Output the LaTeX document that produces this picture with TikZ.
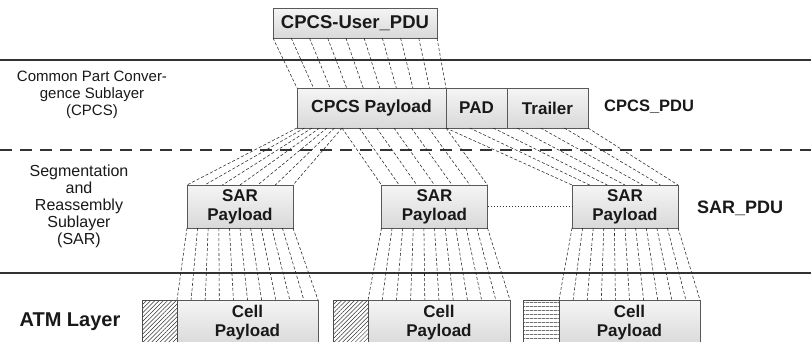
\documentclass[tikz,border=0pt]{standalone}
\usepackage{fontspec}
\setmainfont{Liberation Sans}
\usetikzlibrary{calc,patterns.meta}
\newcommand\fanlines[5]{%
  \pgfmathtruncatemacro\fanlast{#5-1}%
  \foreach \i in {0,...,\fanlast}{%
    \pgfmathsetmacro\fant{\i/\fanlast}%
    \draw[fanline] ($(#1)!\fant!(#2)$) -- ($(#3)!\fant!(#4)$);
  }%
}
\begin{document}
\begin{tikzpicture}[x=1pt,y=-1pt,
  box/.style={draw=black!65, line width=0.8pt, top color=black!4, bottom color=black!15,
    inner sep=0pt, outer sep=0pt, align=center, text=black!90},
  fanline/.style={draw=black!85, line width=0.55pt, dash pattern=on 3pt off 2pt},
  layerline/.style={draw=black!80, line width=1.4pt},
  hdr/.style={draw=black!70, line width=0.6pt, fill=white, inner sep=0pt, outer sep=0pt},
  lbl/.style={align=center, text=black!90, inner sep=0pt},
  blbl/.style={font=\fontsize{16.5}{19}\selectfont\bfseries, text=black!90, inner sep=0pt}
]
\clip (0,0) rectangle (811,341);
\fill[white] (0,0) rectangle (811,341);

% layer separators
\coordinate (l1a) at (0,60);  \coordinate (l1b) at (811,60);
\coordinate (l2a) at (0,150); \coordinate (l2b) at (811,150);
\coordinate (l3a) at (0,273); \coordinate (l3b) at (811,273);
\draw[layerline] (l1a) -- (l1b);
\draw[draw=black!80, line width=1.4pt, dash pattern=on 12pt off 8pt] (l2a) -- (l2b);
\draw[layerline] (l3a) -- (l3b);

% CPCS-User PDU
\node[box, minimum width=164pt, minimum height=30pt, font=\fontsize{18.5}{21}\selectfont\bfseries]
  (user) at (355,23) {CPCS-User\_PDU};

% CPCS PDU
\node[box, minimum width=149pt, minimum height=40pt, font=\fontsize{17.5}{19}\selectfont\bfseries]
  (cp) at (371.5,108) {CPCS Payload};
\node[box, minimum width=61pt, minimum height=40pt, font=\fontsize{17}{19}\selectfont\bfseries]
  (pad) at (476.5,108) {PAD};
\node[box, minimum width=81pt, minimum height=40pt, font=\fontsize{17}{19}\selectfont\bfseries]
  (tr) at (547.5,108) {Trailer};

% SAR PDUs
\foreach \n/\cx in {1/240, 2/434.5, 3/625}{
  \node[box, minimum width=106pt, minimum height=43pt, font=\fontsize{17}{19}\selectfont\bfseries]
    (sar\n) at (\cx,206.5) {SAR\\Payload};
}

% Cells
\node[box, minimum width=141pt, minimum height=46pt, font=\fontsize{17}{19}\selectfont\bfseries]
  (cell1) at (247.5,323) {Cell\\Payload};
\node[box, minimum width=142pt, minimum height=46pt, font=\fontsize{17}{19}\selectfont\bfseries]
  (cell2) at (439,323) {Cell\\Payload};
\node[box, minimum width=141pt, minimum height=46pt, font=\fontsize{17}{19}\selectfont\bfseries]
  (cell3) at (629.5,323) {Cell\\Payload};
\node[hdr, minimum width=35pt, minimum height=46pt, pattern={Lines[angle=45,distance=3pt,line width=0.5pt]}, pattern color=black!80]
  (h1) at (159.5,323) {};
\node[hdr, minimum width=35pt, minimum height=46pt, pattern={Lines[angle=45,distance=3pt,line width=0.5pt]}, pattern color=black!80]
  (h2) at (350.5,323) {};
\node[hdr, minimum width=36pt, minimum height=46pt, pattern={Lines[angle=0,distance=4pt,line width=0.8pt]}, pattern color=black!85]
  (h3) at (541,323) {};

% fans
\fanlines{user.south west}{user.south east}{cp.north west}{cp.north east}{10}
\coordinate (split) at ($(cp.south west)!0.302!(cp.south east)$);
\fanlines{cp.south west}{split}{sar1.north west}{sar1.north east}{7}
\fanlines{split}{cp.south east}{sar2.north west}{sar2.north east}{7}
\fanlines{pad.south west}{tr.south east}{sar3.north west}{sar3.north east}{7}
\foreach \n in {1,2,3}{
  \fanlines{sar\n.south west}{sar\n.south east}{cell\n.north west}{cell\n.north east}{11}
}
\draw[draw=black!80, line width=0.6pt, dash pattern=on 1.5pt off 1.5pt] (sar2.east) -- (sar3.west);

% labels
\node[lbl, font=\fontsize{15}{17}\selectfont] (lcpcs) at (92,95) {Common Part Conver-\\gence Sublayer\\(CPCS)};
\node[lbl, font=\fontsize{16}{17}\selectfont] (lsar) at (79,206) {Segmentation\\and\\Reassembly\\Sublayer\\(SAR)};
\node[font=\fontsize{20}{22}\selectfont\bfseries, text=black!90, inner sep=0pt] (latm) at (70,322) {ATM Layer};
\node[blbl, anchor=west] (lcpdu) at (604,107) {CPCS\_PDU};
\node[blbl, anchor=west, font=\fontsize{18}{20}\selectfont\bfseries] (lspdu) at (697,208) {SAR\_PDU};
\end{tikzpicture}
\end{document}
